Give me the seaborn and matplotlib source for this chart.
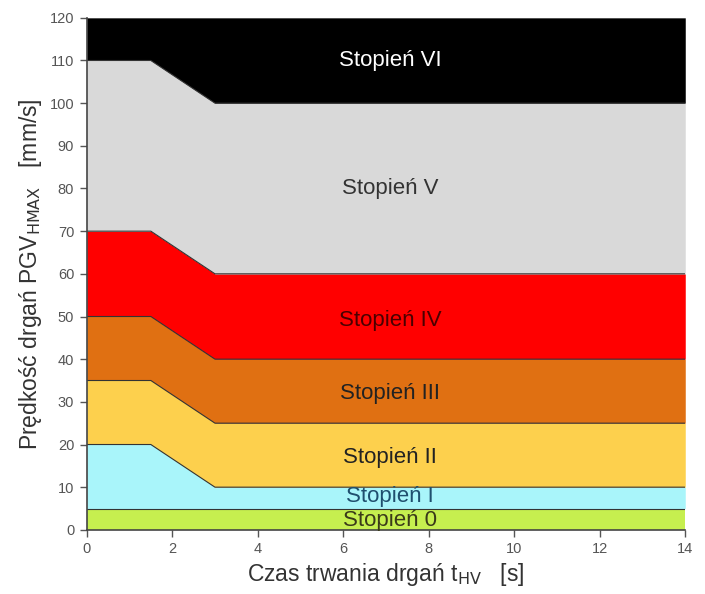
import matplotlib
matplotlib.use("Agg")
import matplotlib.pyplot as plt
import seaborn as sns
import pandas as pd

# Data
x_pts = [0, 1.5, 3, 14]
boundaries = {
    "b0": [0, 0, 0, 0],
    "b1": [5, 5, 5, 5],
    "b2": [20, 20, 10, 10],
    "b3": [35, 35, 25, 25],
    "b4": [50, 50, 40, 40],
    "b5": [70, 70, 60, 60],
    "b6": [110, 110, 100, 100],
    "b7": [120, 120, 120, 120],
}
levels = ["Stopień 0", "Stopień I", "Stopień II", "Stopień III", "Stopień IV", "Stopień V", "Stopień VI"]
colors = ["#c6ef4f", "#a9f5fa", "#fdd04d", "#e07012", "#ff0000", "#d9d9d9", "#000000"]
text_colors = ["#3a3a1a", "#1f4f6e", "#222222", "#222222", "#4a0000", "#333333", "#ffffff"]
label_x = [7.1, 7.1, 7.1, 7.1, 7.1, 7.1, 7.1]
label_y = [2.3, 7.8, 17, 32, 49, 80, 110]
x_ticks = [0, 2, 4, 6, 8, 10, 12, 14]
y_ticks = [0, 10, 20, 30, 40, 50, 60, 70, 80, 90, 100, 110, 120]

sns.set_style("white")
plt.rcParams["font.family"] = ["Liberation Sans", "DejaVu Sans"]

fig = plt.figure(figsize=(7.05, 5.94), dpi=100)
ax = fig.add_axes([0.123, 0.108, 0.849, 0.862])

keys = list(boundaries.keys())
for i in range(len(levels)):
    lo = boundaries[keys[i]]
    hi = boundaries[keys[i + 1]]
    ax.fill_between(x_pts, lo, hi, color=colors[i], linewidth=0, zorder=1)

df = pd.DataFrame({k: v for k, v in boundaries.items()})
df["x"] = x_pts
long = df.melt(id_vars="x", var_name="boundary", value_name="y")
long = long[long["boundary"].isin(["b1", "b2", "b3", "b4", "b5", "b6"])]
sns.lineplot(data=long, x="x", y="y", units="boundary", estimator=None,
             color="#333333", linewidth=0.8, ax=ax, zorder=2, legend=False)

for lab, lx, ly, tc in zip(levels, label_x, label_y, text_colors):
    ax.text(lx, ly, lab, ha="center", va="center", fontsize=16, color=tc, zorder=3)

ax.set_xlim(0, 14)
ax.set_ylim(0, 120)
ax.set_xticks(x_ticks)
ax.set_yticks(y_ticks)
ax.tick_params(axis="both", direction="out", length=5, width=1, colors="#555555",
               labelsize=10.5, labelcolor="#555555", bottom=True, left=True, pad=4)
for s in ["top", "right"]:
    ax.spines[s].set_visible(False)
for s in ["left", "bottom"]:
    ax.spines[s].set_color("#444444")
    ax.spines[s].set_linewidth(1.2)

ax.set_xlabel("Czas trwania drgań t$_{\\mathrm{HV}}$   [s]", fontsize=16.5, color="#333333", labelpad=3)
ax.set_ylabel("Prędkość drgań PGV$_{\\mathrm{HMAX}}$   [mm/s]", fontsize=16.5, color="#333333", labelpad=4)

fig.savefig("out.png", dpi=100)
